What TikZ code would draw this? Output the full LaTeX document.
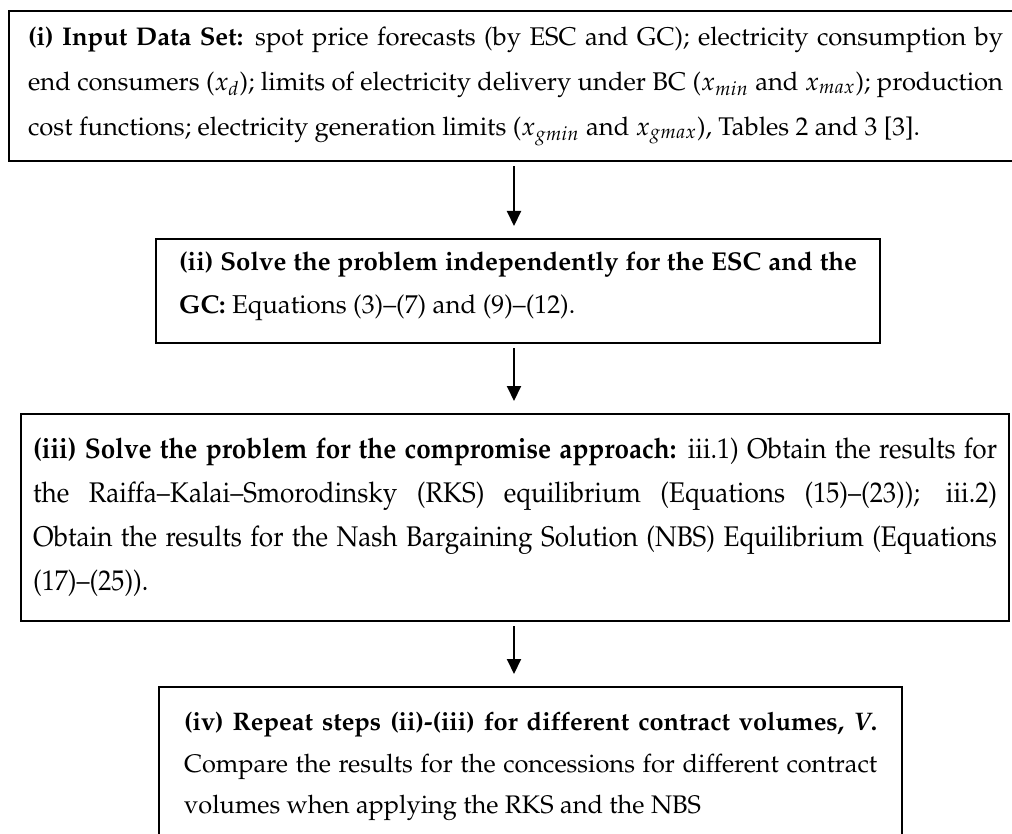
\documentclass[tikz,border=0pt]{standalone}
\usepackage[T1]{fontenc}
\usepackage{mathpazo}
\usepackage{graphicx}
\usetikzlibrary{arrows.meta}

% #1 horizontal scale, #2 line width before scaling, #3 font size, #4 baseline skip, #5 lines
\newcommand{\stagebody}[5]{%
  \scalebox{#1}[1]{\parbox{#2}{\fontsize{#3}{#4}\selectfont\setlength{\parindent}{0pt}#5}}}

\begin{document}
\begin{tikzpicture}[x=0.5pt, y=-0.5pt,
  stage/.style={draw=black, line width=1.1pt, inner sep=0pt, anchor=north west},
  flow/.style={line width=1pt, -{Triangle[length=7.5pt,width=7pt]},
               shorten <=2pt, shorten >=6pt}]
\useasboundingbox (0,0) rectangle (1012,834);

% stage (i): input data
\node[stage, minimum width=506.5pt, minimum height=75pt] (s1) at (8,10) {%
  \stagebody{1}{487.5pt}{12.8pt}{22.5pt}{%
    \makebox[\linewidth][s]{\textbf{(i) Input Data Set:} spot price forecasts (by ESC and GC); electricity consumption by}\\
    \makebox[\linewidth][s]{end consumers ($x_d$); limits of electricity delivery under BC ($x_{min}$ and $x_{max}$); production}\\
    cost functions; electricity generation limits ($x_{gmin}$ and $x_{gmax}$), Tables 2 and 3 [3].}};

% stage (ii): independent solutions
\node[stage, minimum width=362pt, minimum height=52pt] (s2) at (155,238) {%
  \raisebox{2.5pt}[\height][\depth]{\stagebody{1}{339pt}{12.9pt}{21.5pt}{%
    \makebox[\linewidth][s]{\bfseries (ii) Solve the problem independently for the ESC and the}\\
    \textbf{GC:} Equations (3)--(7) and (9)--(12).}}};

% stage (iii): compromise approach, set in a narrower face
\node[stage, minimum width=494pt, minimum height=103.5pt] (s3) at (20,413) {%
  \stagebody{0.92}{523.9pt}{14.2pt}{22pt}{%
    \makebox[\linewidth][s]{\textbf{(iii) Solve the problem for the compromise approach:} iii.1) Obtain the results for}\\
    \makebox[\linewidth][s]{the Raiffa--Kalai--Smorodinsky (RKS) equilibrium (Equations (15)--(23)); iii.2)}\\
    \makebox[\linewidth][s]{Obtain the results for the Nash Bargaining Solution (NBS) Equilibrium (Equations}\\
    (17)--(25)).}};

% stage (iv): repetition over contract volumes
\node[stage, minimum width=371.5pt, minimum height=79.5pt] (s4) at (158,686) {%
  \stagebody{1}{346.5pt}{12.7pt}{20.75pt}{%
    \makebox[\linewidth][s]{\textbf{(iv) Repeat steps (ii)-(iii) for different contract volumes, \textit{V}.}}\\
    \makebox[\linewidth][s]{Compare the results for the concessions for different contract}\\
    volumes when applying the RKS and the NBS}};

% connectors
\coordinate (ax) at (514,0);
\draw[flow] (s1.south -| ax) -- (s2.north -| ax);
\draw[flow] (s2.south -| ax) -- (s3.north -| ax);
\draw[flow] (s3.south -| ax) -- (s4.north -| ax);
\end{tikzpicture}
\end{document}
